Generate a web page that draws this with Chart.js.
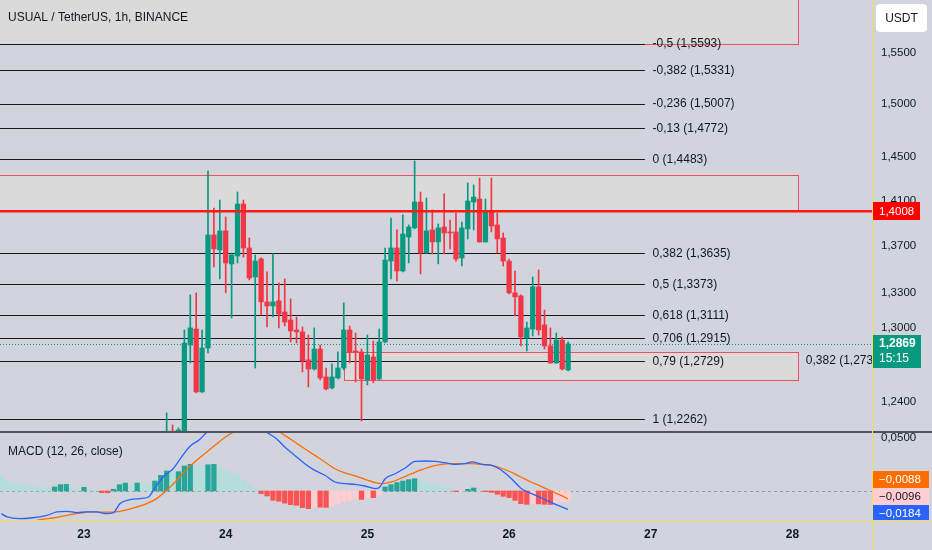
<!DOCTYPE html>
<html>
<head>
<meta charset="utf-8">
<script src="https://cdn.jsdelivr.net/npm/chart.js@4.4.0/dist/chart.umd.min.js"></script>
<style>
  html, body { margin: 0; padding: 0; width: 932px; height: 550px; overflow: hidden; background: #d1d4dc; }
  #priceWrap { position: absolute; left: 0; top: 0; width: 932px; height: 432px; }
  #macdWrap  { position: absolute; left: 0; top: 432px; width: 932px; height: 118px; }
  .sep   { position: absolute; left: 0; top: 431px; width: 932px; height: 2px; background: #50535b; }
  .yl-h  { position: absolute; left: 0; top: 520px; width: 932px; height: 1px; background: #f3df5c; }
  .yl-v  { position: absolute; left: 872px; top: 0; width: 1px; height: 550px; background: #f3df5c; }
</style>
</head>
<body>
<div id="priceWrap"><canvas id="priceChart" width="932" height="432"></canvas></div>
<div id="macdWrap"><canvas id="macdChart" width="932" height="118"></canvas></div>
<div class="sep"></div>
<div class="yl-h"></div>
<div class="yl-v"></div>
<script>
// hours counted from 23 00:00, one candle per hour
const firstHour = 14;
const opens  = [1.2150,1.2170,1.2130,1.2140,1.2860,1.2992,1.2480,1.2835,1.3797,1.3666,1.3833,1.3544,1.3613,1.4073,1.3683,1.3432,1.3587,1.3219,1.3185,1.3228,1.3134,1.3067,1.2984,1.2968,1.2738,1.2664,1.2827,1.2600,1.2512,1.2592,1.2672,1.2984,1.2811,1.2803,1.2576,1.2762,1.2584,1.2885,1.3569,1.3683,1.3483,1.3780,1.3860,1.4091,1.3640,1.3842,1.3736,1.3868,1.3824,1.3824,1.3596,1.3851,1.4091,1.4118,1.3736,1.4010,1.3886,1.3771,1.3569,1.3296,1.3270,1.2918,1.2992,1.3347,1.3026,1.2852,1.2713,1.2901,1.2656];
const highs  = [1.2313,1.2219,1.2196,1.2984,1.3279,1.3296,1.2984,1.4374,1.4037,1.4109,1.3957,1.3640,1.4182,1.4109,1.3771,1.3622,1.3596,1.3475,1.3631,1.3381,1.3415,1.3245,1.3092,1.3009,1.2942,1.3001,1.2860,1.2672,1.2705,1.2803,1.3211,1.3017,1.2959,1.2827,1.2942,1.2893,1.2992,1.3683,1.3948,1.3842,1.3975,1.3886,1.4466,1.4182,1.4127,1.4019,1.3895,1.4164,1.3930,1.3992,1.3912,1.4264,1.4246,1.4309,1.4118,1.4309,1.3992,1.3815,1.3587,1.3483,1.3279,1.3050,1.3432,1.3492,1.3151,1.3001,1.2959,1.2926,1.2885];
const lows   = [1.2100,1.2100,1.2110,1.2100,1.2713,1.2472,1.2476,1.2795,1.3518,1.3415,1.3296,1.3084,1.3552,1.3604,1.3406,1.2672,1.3109,1.3009,1.3092,1.3001,1.3017,1.2885,1.2876,1.2640,1.2520,1.2656,1.2576,1.2496,1.2504,1.2584,1.2656,1.2713,1.2560,1.2250,1.2536,1.2552,1.2576,1.2876,1.3415,1.3398,1.3475,1.3552,1.3851,1.3458,1.3636,1.3631,1.3544,1.3631,1.3675,1.3569,1.3526,1.3762,1.3842,1.3734,1.3734,1.3824,1.3640,1.3526,1.3287,1.3101,1.2852,1.2811,1.2934,1.2942,1.2827,1.2710,1.2710,1.2656,1.2648];
const closes = [1.2170,1.2130,1.2180,1.2876,1.3001,1.2480,1.2835,1.3797,1.3675,1.3833,1.3552,1.3622,1.4073,1.3683,1.3423,1.3569,1.3219,1.3185,1.3219,1.3117,1.3050,1.2976,1.2968,1.2730,1.2664,1.2827,1.2592,1.2504,1.2600,1.2672,1.2984,1.2803,1.2803,1.2584,1.2778,1.2576,1.2885,1.3578,1.3683,1.3483,1.3806,1.3868,1.4091,1.3640,1.3833,1.3736,1.3860,1.3815,1.3815,1.3587,1.3860,1.4100,1.4136,1.3736,1.4010,1.3877,1.3762,1.3569,1.3296,1.3262,1.2926,1.3001,1.3347,1.2984,1.2852,1.2713,1.2901,1.2664,1.2869];

const priceTicks = [1.24, 1.30, 1.33, 1.37, 1.41, 1.45, 1.50, 1.55];
const fibRatios  = [-0.5, -0.382, -0.236, -0.13, 0, 0.382, 0.5, 0.618, 0.706, 0.79, 1];
const fibPrices  = [1.5593, 1.5331, 1.5007, 1.4772, 1.4483, 1.3635, 1.3373, 1.3111, 1.2915, 1.2729, 1.2262];
const zoneHigh   = [1.7000, 1.4337, 1.2803];
const zoneLow    = [1.5593, 1.4008, 1.2576];
const zoneStart  = [-20, -20, 44];
const zoneEnd    = [120.9, 120.9, 120.9];
const zoneLabelRatio = 0.382;
const zoneLabelPrice = 1.2733;
const keyLevel   = 1.4008;
const lastPrice  = 1.2869;
const countdown  = '15:15';

// MACD histogram, one bar per hour starting at hour -14
const histStart = -14;
const hist = [0.0148,0.0091,0.0075,0.0069,0.0063,0.0053,0.0038,0.0036,0.0028,0.0038,0.0060,0.0063,0.0038,0.0022,0.0035,0.0016,0.0006,-0.0016,-0.0017,0.0016,0.0060,0.0075,0.0053,0.0075,0.0069,0.0060,0.0094,0.0148,0.0189,0.0179,0.0182,0.0236,0.0252,0.0240,0.0236,0.0248,0.0252,0.0226,0.0195,0.0164,0.0162,0.0101,0.0063,0.0022,-0.0025,-0.0047,-0.0088,-0.0097,-0.0115,-0.0129,-0.0135,-0.0157,-0.0167,-0.0151,-0.0153,-0.0155,-0.0142,-0.0120,-0.0097,-0.0088,-0.0076,-0.0080,-0.0060,-0.0063,-0.0041,0.0038,0.0060,0.0079,0.0094,0.0107,0.0116,0.0094,0.0079,0.0063,0.0047,0.0031,0.0016,-0.0006,-0.0003,0.0016,0.0028,0.0006,-0.0006,-0.0013,-0.0031,-0.0050,-0.0063,-0.0088,-0.0120,-0.0126,-0.0120,-0.0122,-0.0126,-0.0128,-0.0110,-0.0104,-0.0096];
const macdHours   = [-14,-13,-11,-9,-6.3,-4.6,-2.9,-1.2,0.5,2.1,3.8,5.0,6.1,7.8,9.5,10.9,12.3,13.7,15.1,16.5,18.0,19.6,20.8,23,25,27,29,30.9,32.6,34.0,35.7,37.4,39.1,40.8,42.5,44.2,45.9,47.6,49.3,50.1,51.0,52.7,54.4,56.1,57.8,59.5,61.1,62.8,64.5,65.7,67.4,69.1,70.7,72.4,74.1,75.8,77.5,79.2,80.9,82];
const macdValues  = [-0.0214,-0.0245,-0.0261,-0.0255,-0.0230,-0.0198,-0.0192,-0.0204,-0.0198,-0.0198,-0.0214,-0.0204,-0.0119,-0.0082,-0.0072,-0.0057,0.0053,0.0148,0.0210,0.0320,0.0425,0.0487,0.0557,0.0680,0.0720,0.0700,0.0640,0.0557,0.0494,0.0415,0.0336,0.0258,0.0195,0.0148,0.0085,0.0069,0.0063,0.0047,0.0022,0.0038,0.0116,0.0163,0.0217,0.0280,0.0283,0.0280,0.0267,0.0252,0.0258,0.0274,0.0252,0.0242,0.0195,0.0116,0.0022,-0.0025,-0.0066,-0.0110,-0.0151,-0.0175];
const signalHours  = [-14,-10,-6.9,-5.2,-2.9,-0.7,1.6,3.8,6.1,8.4,10.6,12.3,14.0,15.7,17.4,19.1,20.8,22.5,24.2,27,30,32,34.0,35.7,37.4,39.1,40.8,42.5,44.2,45.9,47.6,49.3,50.4,52.1,53.8,55.5,57.2,58.9,60.6,62.2,65.6,67.2,68.9,70.6,72.3,74.0,75.7,77.4,79.1,80.8,82];
const signalValues = [-0.0330,-0.0300,-0.0267,-0.0255,-0.0230,-0.0208,-0.0198,-0.0200,-0.0192,-0.0160,-0.0119,-0.0072,0.0006,0.0101,0.0204,0.0290,0.0368,0.0447,0.0519,0.0600,0.0620,0.0590,0.0525,0.0462,0.0399,0.0336,0.0274,0.0210,0.0170,0.0142,0.0110,0.0079,0.0069,0.0085,0.0123,0.0163,0.0201,0.0233,0.0252,0.0258,0.0258,0.0252,0.0242,0.0217,0.0179,0.0132,0.0085,0.0044,0.0000,-0.0041,-0.0075];
const macdLast   = -0.0184;
const signalLast = -0.0088;
const macdTicks  = [0.05];

const dayTicks  = [0, 24, 48, 72, 96, 120];
const dayLabels = ['23', '24', '25', '26', '27', '28'];

const X_MIN = -14.23, X_MAX = 133.47;
const FONT = '"Liberation Sans", Arial, sans-serif';
const TEXT = '#131722';
const UP = '#089981', DOWN = '#f23645';

function fmt(v, d) {
  const s = Math.abs(v).toFixed(d).replace('.', ',');
  return (v < 0 ? '\u2212' : '') + s;
}
function fmtRatio(r) { return String(r).replace('.', ','); }

const candleColors = opens.map((o, i) => closes[i] >= o ? UP : DOWN);
const histColors = hist.map((v, i) => {
  const prev = i > 0 ? hist[i - 1] : v + 1;
  if (v >= 0) return v > prev ? '#26a69a' : '#b2dfdb';
  return v < prev ? '#ff5252' : '#ffcdd2';
});

// keep chart area flush with the canvas edges
function noPadV(s) { s.paddingTop = 0; s.paddingBottom = 0; }
function noPadH(s) { s.paddingLeft = 0; s.paddingRight = 0; }

function badge(ctx, x, y, w, h, bg, fg, text) {
  ctx.fillStyle = bg;
  ctx.fillRect(x, y, w, h);
  ctx.fillStyle = fg;
  ctx.font = '11.5px ' + FONT;
  ctx.textAlign = 'left';
  ctx.textBaseline = 'middle';
  ctx.fillText(text, x + 6, y + h / 2 + 0.5);
}

const priceOverlay = {
  id: 'priceOverlay',
  beforeDatasetsDraw(chart) {
    const { ctx, chartArea: a, scales: { x, y } } = chart;
    ctx.save();
    ctx.beginPath();
    ctx.rect(a.left, a.top, a.right - a.left, a.bottom - a.top);
    ctx.clip();
    zoneHigh.forEach((hi, i) => {
      const x1 = x.getPixelForValue(zoneStart[i]), x2 = x.getPixelForValue(zoneEnd[i]);
      const y1 = y.getPixelForValue(hi), y2 = y.getPixelForValue(zoneLow[i]);
      ctx.fillStyle = '#d9dad9';
      ctx.fillRect(x1, y1, x2 - x1, y2 - y1);
      ctx.strokeStyle = '#f0505c';
      ctx.lineWidth = 1;
      ctx.strokeRect(Math.round(x1) + 0.5, Math.round(y1) + 0.5, Math.round(x2 - x1), Math.round(y2 - y1));
    });
    const fibEnd = x.getPixelForValue(95);
    ctx.strokeStyle = '#17191f';
    ctx.lineWidth = 1.2;
    fibPrices.forEach(p => {
      const yy = Math.round(y.getPixelForValue(p)) + 0.5;
      ctx.beginPath();
      ctx.moveTo(a.left, yy);
      ctx.lineTo(fibEnd, yy);
      ctx.stroke();
    });
    // last price dotted line
    const py = Math.round(y.getPixelForValue(lastPrice)) + 0.5;
    ctx.strokeStyle = UP;
    ctx.lineWidth = 1;
    ctx.setLineDash([1, 2]);
    ctx.beginPath();
    ctx.moveTo(a.left, py);
    ctx.lineTo(a.right, py);
    ctx.stroke();
    ctx.restore();
  },
  afterDatasetsDraw(chart) {
    const { ctx, chartArea: a, scales: { x, y } } = chart;
    ctx.save();
    ctx.beginPath();
    ctx.rect(a.left, a.top, a.right - a.left, a.bottom - a.top);
    ctx.clip();
    const ky = y.getPixelForValue(keyLevel);
    ctx.strokeStyle = '#ff1a1a';
    ctx.lineWidth = 2.5;
    ctx.beginPath();
    ctx.moveTo(a.left, ky);
    ctx.lineTo(a.right, ky);
    ctx.stroke();
    ctx.fillStyle = TEXT;
    ctx.font = '12px ' + FONT;
    ctx.textAlign = 'left';
    ctx.textBaseline = 'middle';
    const lx = x.getPixelForValue(96.3);
    fibRatios.forEach((r, i) => {
      ctx.fillText(fmtRatio(r) + ' (' + fmt(fibPrices[i], 4) + ')', lx, y.getPixelForValue(fibPrices[i]) + 0.5);
    });
    const zx = x.getPixelForValue(zoneEnd[2]) + 8;
    ctx.fillText(fmtRatio(zoneLabelRatio) + ' (' + fmt(zoneLabelPrice, 4) + ')', zx, y.getPixelForValue(zoneLabelPrice));
    ctx.restore();
  },
  afterDraw(chart) {
    const { ctx, chartArea: a, scales: { y } } = chart;
    ctx.save();
    ctx.fillStyle = TEXT;
    ctx.font = '12px ' + FONT;
    ctx.textAlign = 'left';
    ctx.textBaseline = 'middle';
    ctx.fillText('USUAL / TetherUS, 1h, BINANCE', 8, 18);
    // USDT button
    ctx.fillStyle = '#ffffff';
    ctx.beginPath();
    ctx.roundRect(876, 4, 51, 28, 4);
    ctx.fill();
    ctx.fillStyle = TEXT;
    ctx.textAlign = 'center';
    ctx.fillText('USDT', 901.5, 18.5);
    // key level badge
    const ky = Math.round(y.getPixelForValue(keyLevel));
    badge(ctx, a.right + 1, ky - 9, 47, 18, '#ff0000', '#ffffff', fmt(keyLevel, 4));
    // last price badge
    const py = Math.round(y.getPixelForValue(lastPrice));
    ctx.fillStyle = UP;
    ctx.fillRect(a.right + 1, py - 9, 48, 33);
    ctx.fillStyle = '#ffffff';
    ctx.font = '600 12px ' + FONT;
    ctx.textAlign = 'left';
    ctx.fillText(fmt(lastPrice, 4), a.right + 7, py);
    ctx.font = '12px ' + FONT;
    ctx.fillText(countdown, a.right + 7, py + 15);
    ctx.restore();
  }
};

new Chart(document.getElementById('priceChart'), {
  type: 'bar',
  data: {
    datasets: [
      {
        label: 'body',
        data: opens.map((o, i) => ({ x: firstHour + i, y: [o, closes[i]] })),
        backgroundColor: candleColors,
        barThickness: 4.6,
        minBarLength: 1,
        grouped: false
      },
      {
        label: 'wick',
        data: lows.map((l, i) => ({ x: firstHour + i, y: [l, highs[i]] })),
        backgroundColor: candleColors,
        barThickness: 1,
        grouped: false
      }
    ]
  },
  options: {
    responsive: false,
    animation: false,
    layout: { padding: 0 },
    plugins: { legend: { display: false }, tooltip: { enabled: false } },
    scales: {
      x: { type: 'linear', min: X_MIN, max: X_MAX, offset: false, display: false },
      y: {
        type: 'logarithmic',
        position: 'right',
        min: 1.2164,
        max: 1.6034,
        afterFit: s => { s.width = 60; noPadV(s); },
        afterBuildTicks: s => { s.ticks = priceTicks.map(v => ({ value: v })); },
        ticks: {
          callback: v => fmt(v, 4),
          color: TEXT,
          font: { family: FONT, size: 11.5 },
          padding: 9
        },
        grid: { display: false, drawTicks: false },
        border: { display: false }
      }
    }
  },
  plugins: [priceOverlay]
});

const macdOverlay = {
  id: 'macdOverlay',
  beforeDatasetsDraw(chart) {
    const { ctx, chartArea: a, scales: { y } } = chart;
    ctx.save();
    const zy = Math.round(y.getPixelForValue(0)) + 0.5;
    ctx.strokeStyle = '#9598a1';
    ctx.lineWidth = 1;
    ctx.setLineDash([3, 3]);
    ctx.beginPath();
    ctx.moveTo(a.left, zy);
    ctx.lineTo(a.right, zy);
    ctx.stroke();
    ctx.restore();
  },
  afterDraw(chart) {
    const { ctx, chartArea: a } = chart;
    ctx.save();
    ctx.fillStyle = TEXT;
    ctx.font = '12px ' + FONT;
    ctx.textAlign = 'left';
    ctx.textBaseline = 'middle';
    ctx.fillText('MACD (12, 26, close)', 8, 20);
    badge(ctx, a.right + 1, 39, 56, 17, '#ff6d00', '#ffffff', fmt(signalLast, 4));
    badge(ctx, a.right + 1, 56, 56, 17, '#ffcdd2', TEXT, fmt(hist[hist.length - 1], 4));
    ctx.beginPath();
    ctx.rect(a.right + 1, 0, 60, a.bottom);
    ctx.clip();
    badge(ctx, a.right + 1, 73, 56, 17, '#2962ff', '#ffffff', fmt(macdLast, 4));
    ctx.restore();
  }
};

new Chart(document.getElementById('macdChart'), {
  type: 'bar',
  data: {
    datasets: [
      {
        type: 'line',
        data: macdHours.map((h, i) => ({ x: h, y: macdValues[i] })),
        borderColor: '#2962ff',
        borderWidth: 1.3,
        pointRadius: 0,
        cubicInterpolationMode: 'monotone',
        order: 0
      },
      {
        type: 'line',
        data: signalHours.map((h, i) => ({ x: h, y: signalValues[i] })),
        borderColor: '#ff6d00',
        borderWidth: 1.3,
        pointRadius: 0,
        cubicInterpolationMode: 'monotone',
        order: 1
      },
      {
        type: 'bar',
        data: hist.map((v, i) => ({ x: histStart + i, y: v })),
        backgroundColor: histColors,
        barThickness: 4.6,
        order: 2
      }
    ]
  },
  options: {
    responsive: false,
    animation: false,
    layout: { padding: 0 },
    plugins: { legend: { display: false }, tooltip: { enabled: false } },
    scales: {
      x: {
        type: 'linear',
        min: X_MIN,
        max: X_MAX,
        offset: false,
        afterFit: s => { s.height = 30; noPadH(s); },
        afterBuildTicks: s => { s.ticks = dayTicks.map(v => ({ value: v })); },
        ticks: {
          callback: v => dayLabels[dayTicks.indexOf(v)],
          color: TEXT,
          font: { family: FONT, size: 12, weight: '600' },
          padding: 7,
          maxRotation: 0
        },
        grid: { display: false, drawTicks: false },
        border: { display: false }
      },
      y: {
        position: 'right',
        min: -0.0274,
        max: 0.0557,
        afterFit: s => { s.width = 60; noPadV(s); },
        afterBuildTicks: s => { s.ticks = macdTicks.map(v => ({ value: v })); },
        ticks: {
          callback: v => fmt(v, 4),
          color: TEXT,
          font: { family: FONT, size: 11.5 },
          padding: 9
        },
        grid: { display: false, drawTicks: false },
        border: { display: false }
      }
    }
  },
  plugins: [macdOverlay]
});
</script>
</body>
</html>
